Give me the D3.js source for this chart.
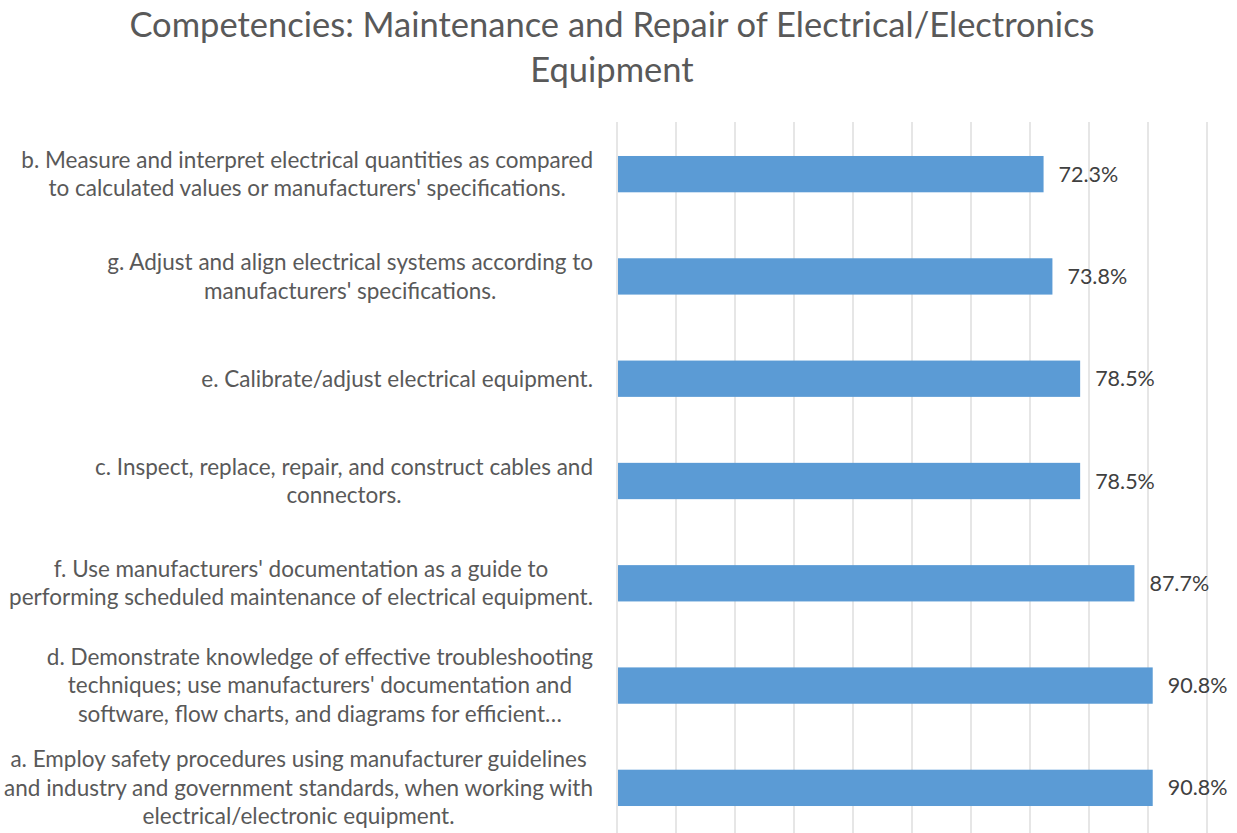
<!DOCTYPE html>
<html>
<head>
<meta charset="utf-8">
<script src="https://cdn.jsdelivr.net/npm/d3@7"></script>
<style>
  body { margin: 0; background: #fff; }
  svg { display: block; font-family: Lato, "Open Sans", sans-serif; }
</style>
</head>
<body>
<div id="chart"></div>
<script>
// categories, top to bottom, with the line breaks seen in the chart
const labels = [
  ["b. Measure and interpret electrical quantities as compared", "to calculated values or manufacturers' specifications."],
  ["g. Adjust and align electrical systems according to", "manufacturers' specifications."],
  ["e. Calibrate/adjust electrical equipment."],
  ["c. Inspect, replace, repair, and construct cables and", "connectors."],
  ["f. Use manufacturers' documentation as a guide to", "performing scheduled maintenance of electrical equipment."],
  ["d. Demonstrate knowledge of effective troubleshooting", "techniques; use manufacturers' documentation and", "software, flow charts, and diagrams for efficient\u2026"],
  ["a. Employ safety procedures using manufacturer guidelines", "and industry and government standards, when working with", "electrical/electronic equipment."]
];
const values = [72.3, 73.8, 78.5, 78.5, 87.7, 90.8, 90.8];
const gridTicks = [0, 10, 20, 30, 40, 50, 60, 70, 80, 90, 100];
const titleLines = ["Competencies: Maintenance and Repair of Electrical/Electronics", "Equipment"];

const width = 1237;
const height = 833;
const plotLeft = 617, plotRight = 1207, plotTop = 123, plotBottom = 839;
const labelRight = 593;
const lineH = 28.5;

const svg = d3.select("#chart")
    .append("svg")
    .attr("width", width)
    .attr("height", height);

const x = d3.scaleLinear().domain([0, 100]).range([plotLeft, plotRight]);
const y = d3.scaleBand().domain(d3.range(values.length)).range([plotTop, plotBottom]).paddingInner(0.645).paddingOuter(0.3225);

// title
svg.append("g").selectAll("text")
    .data(titleLines)
    .enter().append("text")
    .attr("x", 612)
    .attr("y", (d, i) => 37 + i * 45)
    .attr("text-anchor", "middle")
    .attr("font-size", 34.5)
    .attr("fill", "#595959")
    .text(d => d);

// vertical gridlines
svg.append("g").selectAll("line")
    .data(gridTicks)
    .enter().append("line")
    .attr("x1", d => x(d)).attr("x2", d => x(d))
    .attr("y1", plotTop - 1).attr("y2", height)
    .attr("stroke", "#d9d9d9")
    .attr("stroke-width", 1.3);

// bars
svg.append("g").selectAll("rect")
    .data(values)
    .enter().append("rect")
    .attr("x", x(0) + 1)
    .attr("y", (d, i) => y(i))
    .attr("width", d => x(d) - x(0) - 1)
    .attr("height", y.bandwidth())
    .attr("fill", "#5b9bd5");

// value labels
svg.append("g").selectAll("text")
    .data(values)
    .enter().append("text")
    .attr("x", d => x(d) + 15)
    .attr("y", (d, i) => y(i) + y.bandwidth() / 2)
    .attr("dy", "0.35em")
    .attr("font-size", 21.5)
    .attr("fill", "#404040")
    .text(d => d.toFixed(1) + "%");

// category labels: each block right aligned, lines centred within it
const cat = svg.append("g").selectAll("text")
    .data(labels)
    .enter().append("text")
    .attr("font-size", 22.5)
    .attr("fill", "#595959")
    .attr("text-anchor", "middle");

cat.each(function (lines, i) {
    const t = d3.select(this);
    const cy = y(i) + y.bandwidth() / 2;
    lines.forEach((ln, k) => {
        t.append("tspan")
            .attr("y", cy + (k - (lines.length - 1) / 2) * lineH)
            .attr("dy", "0.35em")
            .text(ln);
    });
    let maxW = 0;
    t.selectAll("tspan").each(function () {
        maxW = Math.max(maxW, this.getComputedTextLength());
    });
    t.selectAll("tspan").attr("x", labelRight - maxW / 2);
});
</script>
</body>
</html>
